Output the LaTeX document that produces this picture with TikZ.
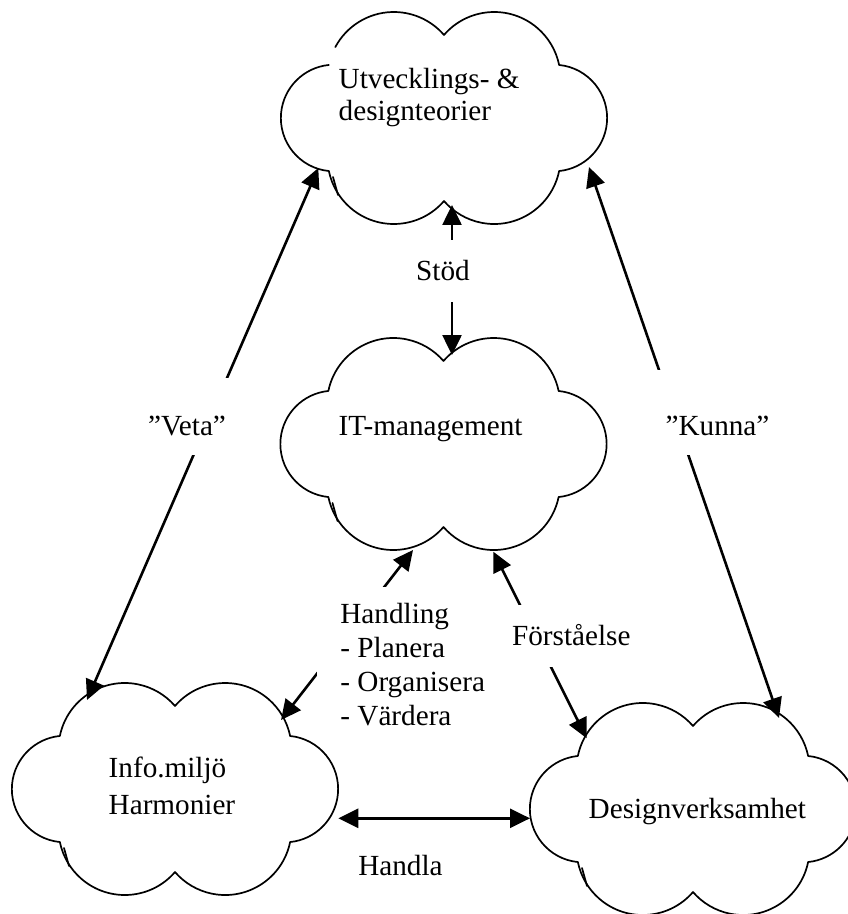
\documentclass[tikz,border=0pt]{standalone}
\usepackage{fontspec}
\setmainfont{Liberation Serif}
\usetikzlibrary{arrows.meta,calc}

\tikzset{
  cloudline/.style={line width=0.85pt, line join=round, line cap=round},
  cloudbox/.style={minimum width=163pt, minimum height=106pt, inner sep=0pt},
  txt/.style={font=\fontsize{14.6}{17}\selectfont, inner sep=0pt, align=left},
  tag/.style={font=\fontsize{14.6}{17}\selectfont, fill=white, inner ysep=0pt, inner xsep=2pt},
  link/.style={line width=1.3pt,
    {Triangle[length=10pt,width=9.5pt]}-{Triangle[length=10pt,width=9.5pt]}},
}

% Cloud outline around a named node: six puffs, opened at the given
% angle on the upper-left puff, with the small tick at the lower-left joint.
\newcommand{\cloudoutline}[2]{%
  \begin{scope}[shift={(#1.center)}]
    \draw[cloudline] (-50.2,39.7) ++(#2:66.3)
      arc[start angle=#2, end angle=40.8, radius=66.3]
      arc[start angle=139.2, end angle=11.6, radius=66.3]
      arc[start angle=84.3, end angle=-84.3, radius=53.3]
      arc[start angle=-11.6, end angle=-139.2, radius=66.3]
      arc[start angle=-40.8, end angle=-168.4, radius=66.3]
      arc[start angle=264.3, end angle=95.7, radius=53.3];
    \draw[cloudline] (-111,-59) -- (-106,-77);
  \end{scope}}

\begin{document}
\begin{tikzpicture}[x=0.5pt,y=0.5pt]
  \useasboundingbox (0,0) rectangle (847,-914);

  % cloud bodies
  \node[cloudbox] (utv)    at (444,-118)   {};
  \node[cloudbox] (itm)    at (443.5,-444) {};
  \node[cloudbox] (info)   at (175,-789)   {};
  \node[cloudbox] (design) at (693,-809)   {};

  \cloudoutline{utv}{151.9}
  \cloudoutline{itm}{168.4}
  \cloudoutline{info}{168.4}
  \cloudoutline{design}{168.4}

  % texts inside the clouds
  \node[txt, anchor=north west, font=\fontsize{14.6}{15.9}\selectfont]
    (utvtext) at (338.3,-68.3) {Utvecklings- \&\\designteorier};
  \node[txt, anchor=base west] (itmtext) at (338.3,-435) {IT-management};
  \node[txt, anchor=north west, font=\fontsize{14.6}{18.3}\selectfont]
    (infotext) at (108.3,-756.7) {Info.miljö\\Harmonier};
  \node[txt, anchor=base west] (designtext) at (588.3,-818.3) {Designverksamhet};

  % connector end points on the cloud outlines
  \coordinate (veta-top)  at ($(utv)+(-125.7,-50)$);
  \coordinate (veta-bot)  at ($(info)+(-88,89)$);
  \coordinate (kunna-top) at ($(utv)+(145,-49)$);
  \coordinate (kunna-bot) at ($(design)+(86,91)$);
  \coordinate (stod-top)  at ($(utv)+(8,-87)$);
  \coordinate (stod-bot)  at ($(itm)+(8.5,89)$);
  \coordinate (hand-top)  at ($(itm)+(-30.5,-106)$);
  \coordinate (hand-bot)  at ($(info)+(106,69)$);
  \coordinate (forst-top) at ($(itm)+(49.8,-107.7)$);
  \coordinate (forst-bot) at ($(design)+(-106.3,70.7)$);
  \coordinate (handla-l)  at ($(info)+(163.3,-29.3)$);
  \coordinate (handla-r)  at ($(design)+(-163,-9.3)$);

  % connectors
  \draw[link] (veta-top) -- (veta-bot);
  \draw[link] (kunna-top) -- (kunna-bot);
  \draw[link] (stod-top) -- (stod-bot);
  \draw[link] (hand-top) -- (hand-bot);
  \draw[link] (forst-top) -- (forst-bot);
  \draw[link] (handla-l) -- (handla-r);

  % labels on the connectors
  \node[tag, anchor=base, text height=28.5pt, text depth=10pt]
    (veta) at (187,-435) {”Veta”};
  \node[tag, anchor=base, inner xsep=6pt, text height=32.5pt, text depth=10pt]
    (kunna) at (717.5,-435) {”Kunna”};
  \node[tag, anchor=base, text height=20.5pt, text depth=10.5pt]
    (stod) at (443,-281) {Stöd};
  \node[tag, anchor=base west, text height=20pt, text depth=11pt]
    (forst) at (507.7,-645) {Förståelse};
  \node[tag, anchor=north west, align=left, inner xsep=11.5pt, inner ysep=8pt]
    (hand) at (317,-587) {Handling\\- Planera\\- Organisera\\- Värdera};
  \node[txt, anchor=base] (handla) at (400.5,-875) {Handla};
\end{tikzpicture}
\end{document}
